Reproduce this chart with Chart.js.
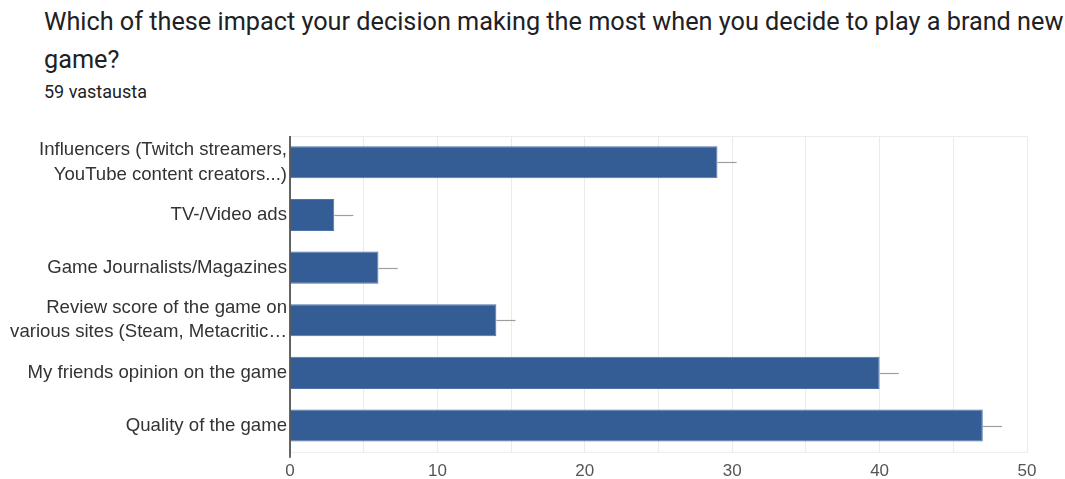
<!DOCTYPE html>
<html>
<head>
<meta charset="utf-8">
<script src="https://cdn.jsdelivr.net/npm/chart.js@4/dist/chart.umd.min.js"></script>
<style>
  html, body { margin: 0; padding: 0; background: #fff; width: 1065px; height: 479px; overflow: hidden; }
  #title { position: absolute; left: 44px; top: 3px; width: 1024px; font-family: Roboto, "Noto Sans", sans-serif; font-size: 25.25px; line-height: 38px; color: #202124; }
  #sub { position: absolute; left: 44px; top: 80px; font-family: Roboto, "Noto Sans", sans-serif; font-size: 18px; line-height: 24px; color: #202124; }
  #wrap { position: absolute; left: 0; top: 0; width: 1065px; height: 479px; }
</style>
</head>
<body>
<div id="title">Which of these impact your decision making the most when you decide to play a brand new game?</div>
<div id="sub">59 vastausta</div>
<div id="wrap"><canvas id="c" width="1065" height="479"></canvas></div>
<script>
const categories = [
  ["Influencers (Twitch streamers,", "YouTube content creators...)"],
  "TV-/Video ads",
  "Game Journalists/Magazines",
  ["Review score of the game on", "various sites (Steam, Metacritic\u2026"],
  "My friends opinion on the game",
  "Quality of the game"
];
const counts = [29, 3, 6, 14, 40, 47];
const errorMargins = [1.3, 1.3, 1.3, 1.3, 1.3, 1.3];
const xTicks = [0, 10, 20, 30, 40, 50];

const framePlugin = {
  id: 'frame',
  beforeDatasetsDraw(chart) {
    const { ctx, chartArea: a } = chart;
    ctx.save();
    ctx.strokeStyle = '#ebebeb';
    ctx.lineWidth = 1;
    ctx.strokeRect(a.left + 0.5, a.top + 0.5, a.right - a.left, a.bottom - a.top);
    ctx.restore();
  },
  afterDatasetsDraw(chart) {
    const { ctx, chartArea: a } = chart;
    const xs = chart.scales.x;
    const meta = chart.getDatasetMeta(0);
    ctx.save();
    ctx.strokeStyle = '#9e9e9e';
    ctx.lineWidth = 1.2;
    meta.data.forEach((bar, i) => {
      const x0 = bar.x;
      const x1 = xs.getPixelForValue(counts[i] + errorMargins[i]);
      ctx.beginPath();
      ctx.moveTo(x0, Math.round(bar.y) + 0.5);
      ctx.lineTo(x1, Math.round(bar.y) + 0.5);
      ctx.stroke();
    });
    ctx.strokeStyle = '#333333';
    ctx.lineWidth = 1.5;
    ctx.beginPath();
    ctx.moveTo(a.left, a.top);
    ctx.lineTo(a.left, a.bottom + 6);
    ctx.stroke();
    ctx.restore();
  }
};

new Chart(document.getElementById('c'), {
  type: 'bar',
  data: {
    labels: categories,
    datasets: [{
      data: counts,
      backgroundColor: '#355d95',
      borderColor: '#4d73a8',
      borderWidth: 1,
      barPercentage: 0.61,
      categoryPercentage: 1.0
    }]
  },
  options: {
    indexAxis: 'y',
    responsive: false,
    animation: false,
    layout: { padding: { top: 136, right: 38, left: 6, bottom: 0 } },
    plugins: { legend: { display: false }, tooltip: { enabled: false } },
    scales: {
      x: {
        min: 0, max: 50,
        ticks: {
          stepSize: 5,
          padding: 9,
          color: '#555555',
          font: { family: 'Liberation Sans, Arial, sans-serif', size: 17 },
          callback: (v) => xTicks.includes(v) ? String(v) : ''
        },
        grid: { color: '#ebebeb', drawTicks: false },
        border: { display: false },
        afterFit: (s) => { s.height = 27; }
      },
      y: {
        ticks: {
          padding: 3,
          color: '#333333',
          font: { family: 'Liberation Sans, Arial, sans-serif', size: 18.6, lineHeight: 1.3 }
        },
        grid: { display: false, drawTicks: false },
        border: { display: false },
        afterFit: (s) => { s.width = 284; }
      }
    }
  },
  plugins: [framePlugin]
});
</script>
</body>
</html>
